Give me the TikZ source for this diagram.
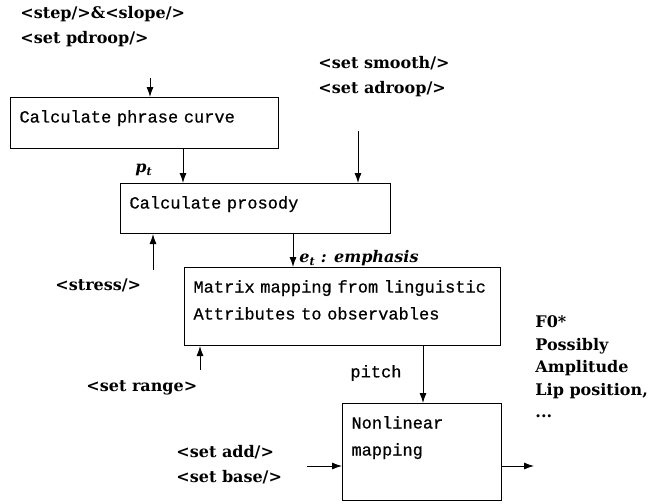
\documentclass[tikz,border=0pt]{standalone}
\usepackage{fontspec}
\usetikzlibrary{arrows.meta}
\newfontfamily\tagfamily{DejaVu Serif}
\newfontfamily\monofamily[FakeBold=0.6]{Liberation Mono}
\tikzset{
  procbox/.style={draw, line width=1pt, anchor=north west, align=left,
    inner xsep=9pt, inner ysep=5pt, text height=20pt,
    font=\monofamily\fontsize{17}{27}\selectfont},
  tag/.style={align=left, inner sep=0pt, anchor=west,
    font=\tagfamily\bfseries\fontsize{16}{25}\selectfont},
  sym/.style={inner sep=0pt, anchor=west,
    font=\tagfamily\bfseries\itshape\fontsize{16}{18}\selectfont},
}
\begin{document}
\begin{tikzpicture}[x=1pt, y=-1pt, >={Latex[length=10pt,width=7pt]}, line width=0.9pt]
    \useasboundingbox (0,0) rectangle (657,504);
    \node[procbox, text width=250pt, text depth=21pt] (Phrase) at (10,97) {Calculate phrase curve};
    \node[procbox, text width=252pt, text depth=20pt] (Prosody) at (120,183) {Calculate prosody};
    \node[procbox, text width=298pt, text depth=48pt] (Matrix) at (184,267) {Matrix mapping from linguistic\\Attributes to observables};
    \node[procbox, text width=141pt, text depth=67pt] (Nonlin) at (342,403) {Nonlinear\\mapping};
    \node[tag] (PhraseTags) at (20,27) {<step/>\&<slope/>\\<set pdroop/>};
    \node[tag] (SmoothTags) at (318,77) {<set smooth/>\\<set adroop/>};
    \node[tag] (Stress) at (55,285) {<stress/>};
    \node[tag] (Range) at (86,388) {<set range>};
    \node[tag] (AddBase) at (176,465) {<set add/>\\<set base/>};
    \node[tag, font=\tagfamily\bfseries\fontsize{16}{22.5}\selectfont] (Outputs) at (535,367) {F0*\\Possibly\\Amplitude\\Lip position,\\...};
    \node[sym] (Pt) at (135,170) {p\textsubscript{t}};
    \node[sym] (Et) at (299,258) {e\textsubscript{t} : emphasis};
    \node[anchor=west, inner sep=0pt, font=\monofamily\fontsize{17}{20}\selectfont] (Pitch) at (350,373) {pitch};
    \coordinate (PhraseIn) at (150,78);
    \coordinate (SmoothIn) at (358,131);
    \coordinate (PtIn) at (183,183);
    \coordinate (StressOut) at (153,270);
    \coordinate (EtIn) at (293,267);
    \coordinate (RangeOut) at (200,370);
    \coordinate (PitchIn) at (423,403);
    \coordinate (AddIn) at (307,466);
    \coordinate (OutEnd) at (534,466);
    \draw[->] (PhraseIn) -- (PhraseIn |- Phrase.north);
    \draw[->] (SmoothIn) -- (SmoothIn |- Prosody.north);
    \draw[->] (PtIn |- Phrase.south) -- (PtIn |- Prosody.north);
    \draw[->] (StressOut) -- (StressOut |- Prosody.south);
    \draw[->] (EtIn |- Prosody.south) -- (EtIn |- Matrix.north);
    \draw[->] (RangeOut) -- (RangeOut |- Matrix.south);
    \draw[->] (PitchIn |- Matrix.south) -- (PitchIn |- Nonlin.north);
    \draw[->] (AddIn) -- (AddIn -| Nonlin.west);
    \draw[->] (Nonlin.east |- OutEnd) -- (OutEnd);
\end{tikzpicture}
\end{document}
